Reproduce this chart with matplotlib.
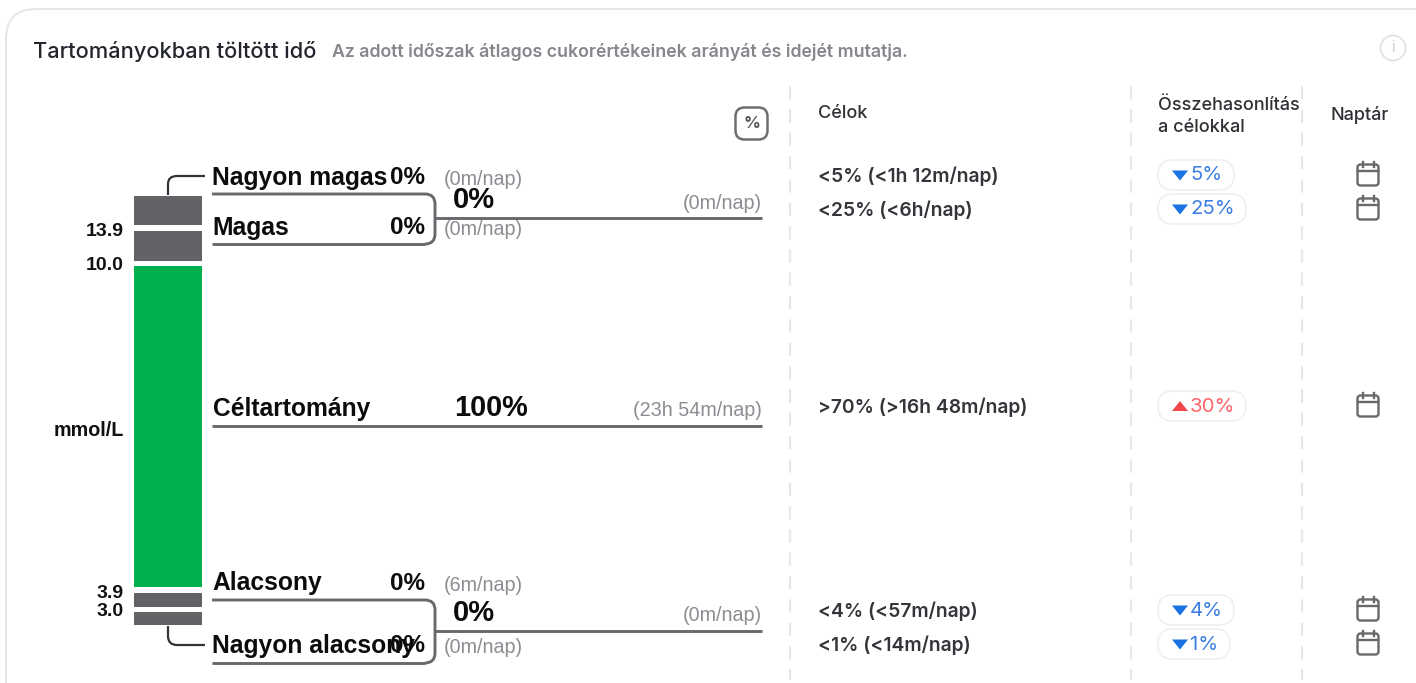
import matplotlib
matplotlib.use("Agg")
import matplotlib.pyplot as plt
from matplotlib.patches import FancyBboxPatch, PathPatch, Polygon
from matplotlib.path import Path

# zones, top to bottom
zones = ["Nagyon magas", "Magas", "Céltartomány", "Alacsony", "Nagyon alacsony"]
zone_pct = ["0%", "0%", "100%", "0%", "0%"]
zone_time = ["(0m/nap)", "(0m/nap)", "(23h 54m/nap)", "(6m/nap)", "(0m/nap)"]
bar_heights = [29, 30, 321, 14, 13]
bar_colors = ["#636267", "#636267", "#00b04f", "#636267", "#636267"]
bar_gap = 5.5
thresholds = ["13.9", "10.0", "3.9", "3.0"]
goals = ["<5% (<1h 12m/nap)", "<25% (<6h/nap)", ">70% (>16h 48m/nap)", "<4% (<57m/nap)", "<1% (<14m/nap)"]
compare = ["5%", "25%", "30%", "4%", "1%"]
compare_up = [False, False, True, False, False]
group_pct = ["0%", "0%"]
group_time = ["(0m/nap)", "(0m/nap)"]

ARIAL = "Liberation Sans"
INTER = "Inter"
GRAY = "#69686d"


def elbow(ax, pts, color, lw):
    # polyline whose middle points are rounded corners
    verts = [pts[0]]
    codes = [Path.MOVETO]
    for a, b, c in pts[1:]:
        verts += [a, b, c]
        codes += [Path.LINETO, Path.CURVE3, Path.CURVE3]
    ax.add_patch(PathPatch(Path(verts, codes), fc="none", ec=color, lw=lw, capstyle="butt"))


fig = plt.figure(figsize=(14.16, 6.83), dpi=100)
ax = fig.add_axes([0, 0, 1, 1])
ax.set_xlim(0, 1416)
ax.set_ylim(683, 0)
ax.axis("off")

# card
ax.add_patch(FancyBboxPatch((6, 9), 1500, 800, boxstyle="round,pad=0,rounding_size=30",
                            fc="white", ec="#e6e6e6", lw=1.4))
ax.text(33, 52, "Tartományokban töltött idő", family=INTER, fontsize=15.7, fontweight=500,
        color="#22252b", va="center")
ax.text(332, 52, "Az adott időszak átlagos cukorértékeinek arányát és idejét mutatja.", family=INTER,
        fontsize=12.75, fontweight=600, color="#85878c", va="center")
ax.add_patch(plt.Circle((1393, 48), 12.5, fc="none", ec="#e0e0e0", lw=1.2))
ax.text(1393, 48, "i", family=INTER, fontsize=11, color="#cccccc", ha="center", va="center")

# stacked bar
y = 196
for h, c in zip(bar_heights, bar_colors):
    ax.bar(168, h, width=68, bottom=y, color=c, linewidth=0)
    y += h + bar_gap

for lab, yy in zip(thresholds, [231, 265, 593, 612]):
    ax.text(124, yy, lab, family=ARIAL, fontsize=14, fontweight="bold", color="#111111", ha="right", va="center")
ax.text(124, 430, "mmol/L", family=ARIAL, fontsize=14.2, fontweight="bold", color="#111111", ha="right", va="center")

# connectors from bar to outer labels
elbow(ax, [(168, 195), ((168, 184), (168, 176), (177, 176))], "#333338", 1.6)
ax.plot([177, 205], [176, 176], color="#333338", lw=1.6, solid_capstyle="butt")
elbow(ax, [(168, 626), ((168, 636), (168, 645), (177, 645))], "#333338", 1.6)
ax.plot([177, 205], [645, 645], color="#333338", lw=1.6, solid_capstyle="butt")

# zone labels
label_y = [178, 228, 409, 583, 646]
pct_y = [178, 228, None, 583, 646]
time_y = [179.5, 229.5, 411, 585.5, 647.5]
time_x = [444, 444, 762, 444, 444]
for i in range(5):
    ax.text(212.5, label_y[i], zones[i], family=ARIAL, fontsize=17.7, fontweight="bold", color="#0c0c0c", va="center")
    if pct_y[i] is not None:
        ax.text(425, pct_y[i], zone_pct[i], family=ARIAL, fontsize=17.5, fontweight="bold", color="#0c0c0c",
                ha="right", va="center")
    ax.text(time_x[i], time_y[i], zone_time[i], family=ARIAL, fontsize=14.2, color="#8b8d92",
            ha="right" if time_x[i] > 700 else "left", va="center")
ax.text(491, 408, zone_pct[2], family=ARIAL, fontsize=20.8, fontweight="bold", color="#0c0c0c", ha="center", va="center")
ax.plot([212, 762], [426, 426], color=GRAY, lw=2.1, solid_capstyle="butt")

# brackets for the two grouped zones
for top, bot, mid, gp, gt, py, ty in [(194, 244, 218, group_pct[0], group_time[0], 200.5, 203.5),
                                      (600, 663, 631, group_pct[1], group_time[1], 613, 615.5)]:
    r = 10
    elbow(ax, [(212, top), ((435 - r, top), (435, top), (435, top + r)),
               ((435, bot - r), (435, bot), (435 - r, bot))], GRAY, 2.1)
    ax.plot([435 - r, 212], [bot, bot], color=GRAY, lw=2.1, solid_capstyle="butt")
    ax.plot([435, 762], [mid, mid], color=GRAY, lw=2.1, solid_capstyle="butt")
    ax.text(474, py, gp, family=ARIAL, fontsize=21, fontweight="bold", color="#0c0c0c", ha="center", va="center")
    ax.text(762, ty, gt, family=ARIAL, fontsize=14.2, color="#8b8d92", ha="right", va="center")

# % toggle
ax.add_patch(FancyBboxPatch((735.5, 107.5), 32, 32, boxstyle="round,pad=0,rounding_size=9",
                            fc="white", ec="#6c6e72", lw=1.8))
ax.text(751.5, 124, "%", family=INTER, fontsize=12, fontweight="bold", color="#55575b", ha="center", va="center")

# dashed column separators
for x in [790, 1131, 1302]:
    ax.plot([x, x], [86, 680], color="#e8e8ec", lw=1.6, dashes=(6, 4.5))

# column headers
head = dict(family=INTER, fontsize=13, fontweight=500, color="#2f3136", va="center")
ax.text(818, 114, "Célok", **head)
ax.text(1158, 105, "Összehasonlítás", **head)
ax.text(1158, 128, "a célokkal", **head)
ax.text(1330, 115, "Naptár", **head)

# rows
row_y = [175, 209, 406, 610, 644]
pill_w = [76, 88, 88, 76, 72]
for i, ry in enumerate(row_y):
    ax.text(818, ry + 1, goals[i], family=INTER, fontsize=13.85, fontweight=600, color="#33353a", va="center")
    ax.add_patch(FancyBboxPatch((1158, ry - 15), pill_w[i], 30, boxstyle="round,pad=0,rounding_size=15",
                                fc="white", ec="#eeeef2", lw=1.1))
    col = "#ff6468" if compare_up[i] else "#3b7fe0"
    tri = "#f0474c" if compare_up[i] else "#1a73e0"
    if compare_up[i]:
        ax.add_patch(Polygon([[1172, ry + 5], [1188, ry + 5], [1180, ry - 5]], fc=tri, ec="none"))
    else:
        ax.add_patch(Polygon([[1172, ry - 4.5], [1188, ry - 4.5], [1180, ry + 5.5]], fc=tri, ec="none"))
    ax.text(1190, ry + 0.5, compare[i], family=INTER, fontsize=14.7, color=col, va="center")
    # calendar icon
    ax.add_patch(FancyBboxPatch((1357.5, ry - 10.5), 21, 21, boxstyle="round,pad=0,rounding_size=3",
                                fc="white", ec="#66686c", lw=1.7))
    ax.plot([1358, 1378], [ry - 4.5, ry - 4.5], color="#66686c", lw=1.7)
    for xx in (1362.5, 1373.5):
        ax.plot([xx, xx], [ry - 13.5, ry - 8], color="#66686c", lw=1.7)

fig.savefig("out.png", dpi=100)
